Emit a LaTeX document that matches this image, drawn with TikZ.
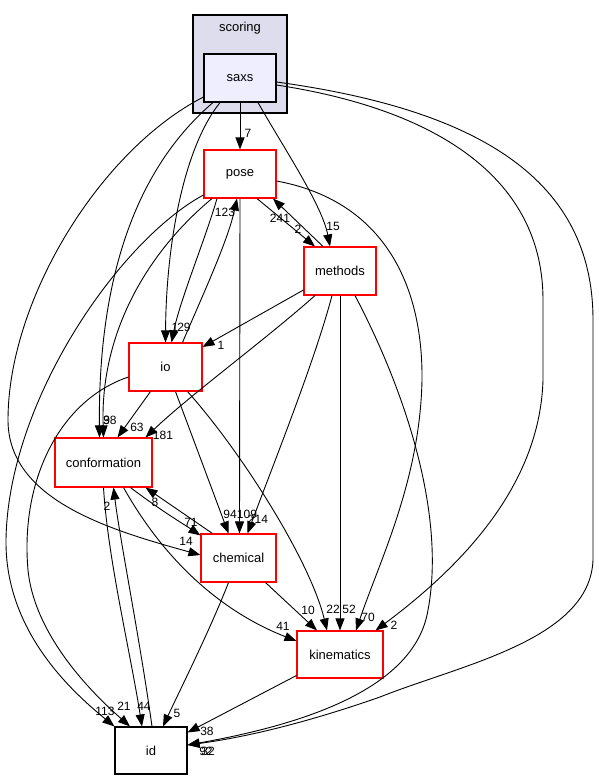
\documentclass[tikz,border=0pt]{standalone}
\usepackage{fontspec}
\setmainfont{Liberation Sans}
\usetikzlibrary{arrows.meta}
\definecolor{clfill}{HTML}{DDDDEE}
\definecolor{saxsfill}{HTML}{EEEEFF}
\definecolor{dred}{HTML}{FF0000}
\tikzset{
  dirbox/.style={draw=dred, line width=1.1pt, fill=white, minimum width=72pt, minimum height=48pt, inner sep=0pt, font=\fontsize{13}{15}\selectfont},
  blackbox/.style={dirbox, draw=black},
  dep/.style={line width=0.9pt, -{Triangle[length=12pt,width=9pt]}},
  lbl/.style={inner sep=0pt, font=\fontsize{12}{14}\selectfont}
}
\begin{document}
\begin{tikzpicture}[x=1pt,y=-1pt]
\useasboundingbox (0,0) rectangle (599,780);
\fill[white] (0,0) rectangle (599,780);
% cluster
\node[draw=black, line width=1.1pt, fill=clfill, minimum width=94pt, minimum height=98pt, inner sep=0pt] (scoring) at (240,64) {};
\node[inner sep=0pt, font=\fontsize{13}{15}\selectfont] (scoringlbl) at (240,28) {scoring};
% nodes
\node[blackbox, fill=saxsfill] (saxs) at (240,78) {saxs};
\node[dirbox] (pose) at (240,174) {pose};
\node[dirbox] (methods) at (340,271) {methods};
\node[dirbox, minimum width=73pt] (io) at (165.5,367) {io};
\node[dirbox, minimum width=97pt, minimum height=49pt] (conformation) at (103.5,462.5) {conformation};
\node[dirbox, minimum width=75pt] (chemical) at (238.5,558) {chemical};
\node[dirbox, minimum width=86pt, minimum height=47pt] (kinematics) at (340,654.5) {kinematics};
\node[blackbox, minimum height=47pt] (id) at (151,750.5) {id};
% from saxs
\draw[dep] (saxs.south) -- (pose.north);
\draw[dep] ([xshift=18pt]saxs.south) .. controls (285,150) and (322,205) .. ([xshift=-10pt]methods.north);
\draw[dep] ([xshift=-20pt]saxs.south) .. controls (182,150) and (166,250) .. ([xshift=0pt]io.north);
\draw[dep] ([xshift=-27pt]saxs.south) .. controls (140,165) and (98,270) .. ([xshift=-4pt]conformation.north);
\draw[dep] ([yshift=-19pt]saxs.west) .. controls (100,150) and (8,300) .. (8,420) .. controls (8,500) and (110,530) .. ([yshift=3pt]chemical.west);
\draw[dep] ([yshift=-7pt]saxs.east) .. controls (440,110) and (543,180) .. (543,300) -- (543,380) .. controls (540,480) and (470,560) .. ([xshift=-8pt]kinematics.north east);
\draw[dep] ([yshift=-4pt]saxs.east) .. controls (480,110) and (593,180) .. (593,320) -- (593,560) .. controls (590,640) and (460,665) .. (380,697) .. controls (300,725) and (240,738) .. ([yshift=5.5pt]id.east);
% from pose
\draw[dep] ([xshift=-23pt]pose.south) .. controls (205,240) and (180,300) .. ([xshift=6pt]io.north);
\draw[dep] ([xshift=-28pt]pose.south) .. controls (150,250) and (100,330) .. ([xshift=0pt]conformation.north);
\draw[dep] ([yshift=-21pt]pose.west) .. controls (120,240) and (8,400) .. (6,540) .. controls (5,630) and (70,690) .. (id.north west);
\draw[dep] (pose.south) -- ([xshift=1pt]chemical.north);
\draw[dep] ([xshift=17pt]pose.south) -- ([xshift=-25pt]methods.north);
\draw[dep] ([yshift=-7pt]pose.east) .. controls (380,200) and (423,280) .. (422,380) .. controls (420,480) and (380,560) .. ([xshift=16pt]kinematics.north);
% from methods
\draw[dep] ([xshift=-17pt]methods.north) -- ([xshift=33pt]pose.south);
\draw[dep] ([yshift=-19pt]methods.west) -- ([yshift=20pt]io.east);
\draw[dep] ([xshift=-25pt]methods.south) .. controls (265,340) and (190,395) .. ([xshift=42pt]conformation.north);
\draw[dep] ([xshift=-8pt]methods.south) .. controls (315,360) and (275,460) .. ([xshift=9pt]chemical.north);
\draw[dep] (methods.south) -- (kinematics.north);
\draw[dep] ([xshift=15pt]methods.south) .. controls (410,400) and (445,520) .. (428,610) .. controls (415,690) and (300,725) .. ([yshift=5.5pt]id.east);
% from io
\draw[dep] ([xshift=17pt]io.north) .. controls (205,290) and (228,240) .. ([xshift=-3pt]pose.south);
\draw[dep] ([xshift=-15pt]io.south) -- ([xshift=14pt]conformation.north);
\draw[dep] ([xshift=10pt]io.south) -- ([xshift=-10pt]chemical.north);
\draw[dep] ([xshift=22pt]io.south) .. controls (240,450) and (310,560) .. ([xshift=-13pt]kinematics.north);
\draw[dep] ([yshift=-10pt]io.west) .. controls (60,400) and (20,480) .. (28,570) .. controls (35,640) and (100,700) .. ([xshift=-21pt]id.north);
% from conformation
\draw[dep] (conformation.south) .. controls (108,560) and (130,650) .. ([xshift=-9pt]id.north);
\draw[dep] ([xshift=20pt]conformation.south) .. controls (170,570) and (230,615) .. ([yshift=13.5pt]kinematics.west);
\draw[dep] ([xshift=27pt]conformation.south) .. controls (160,510) and (185,525) .. ([yshift=-2pt]chemical.north west);
% from chemical
\draw[dep] ([xshift=12pt]chemical.north west) -- ([xshift=-7pt]conformation.south east);
\draw[dep] ([xshift=27pt]chemical.south) -- ([xshift=-23pt]kinematics.north);
\draw[dep] ([xshift=-10pt]chemical.south) .. controls (210,630) and (180,690) .. ([xshift=12pt]id.north);
% from id
\draw[dep] ([xshift=1pt]id.north) .. controls (140,640) and (120,540) .. ([xshift=10pt]conformation.south);
% from kinematics
\draw[dep] ([yshift=-21pt]kinematics.west) -- ([yshift=18pt]id.east);
% labels
\node[lbl] (l1) at (248,133) {7};
\node[lbl] (l2) at (333,226) {15};
\node[lbl] (l3) at (298,229) {2};
\node[lbl] (l4) at (280,218) {241};
\node[lbl] (l5) at (225,212) {123};
\node[lbl] (l6) at (175,327) {1};
\node[lbl] (l7) at (184,327) {29};
\node[lbl] (l8) at (221,345) {1};
\node[lbl] (l9) at (106.5,420) {3};
\node[lbl] (l10) at (110,420) {98};
\node[lbl] (l11) at (137,427) {63};
\node[lbl] (l12) at (163,435) {181};
\node[lbl] (l13) at (155,502) {8};
\node[lbl] (l14) at (107,506) {2};
\node[lbl] (l15) at (191,522) {71};
\node[lbl] (l16) at (186,541) {14};
\node[lbl] (l17) at (230,514) {94};
\node[lbl] (l18) at (247,514) {109};
\node[lbl] (l19) at (258,519) {214};
\node[lbl] (l20) at (308,610) {10};
\node[lbl] (l21) at (333,609) {22};
\node[lbl] (l22) at (349,609) {52};
\node[lbl] (l23) at (368,617) {70};
\node[lbl] (l24) at (394,625) {2};
\node[lbl] (l25) at (283,626) {41};
\node[lbl] (l26) at (105,711) {113};
\node[lbl] (l27) at (124,706) {21};
\node[lbl] (l28) at (144,706) {44};
\node[lbl] (l29) at (177,713) {5};
\node[lbl] (l30) at (207,731) {38};
\node[lbl] (l31) at (206,751) {92};
\node[lbl] (l32) at (208,751) {32};
\end{tikzpicture}
\end{document}
